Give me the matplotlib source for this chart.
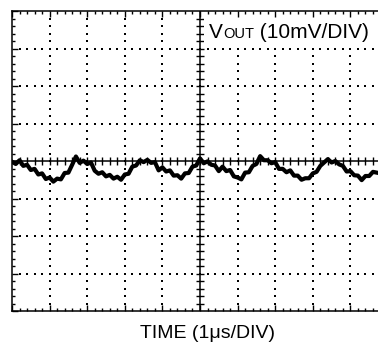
import matplotlib
matplotlib.use("Agg")
import matplotlib.pyplot as plt
from matplotlib.ticker import MultipleLocator
from matplotlib.patches import Rectangle
import numpy as np

plt.rcParams['font.family'] = ['Liberation Sans', 'DejaVu Sans']

# ---- data (time in us, VOUT ripple in mV) ----
time_us = [0.0, 0.1, 0.2, 0.3, 0.4, 0.5, 0.6, 0.7, 0.8, 0.9,
           1.0, 1.1, 1.2, 1.3, 1.4, 1.5, 1.6, 1.7, 1.8, 1.9,
           2.0, 2.1, 2.2, 2.3, 2.4, 2.5, 2.6, 2.7, 2.8, 2.9,
           3.0, 3.1, 3.2, 3.3, 3.4, 3.5, 3.6, 3.7, 3.8, 3.9,
           4.0, 4.1, 4.2, 4.3, 4.4, 4.5, 4.6, 4.7, 4.8, 4.9,
           5.0, 5.1, 5.2, 5.3, 5.4, 5.5, 5.6, 5.7, 5.8, 5.9,
           6.0, 6.1, 6.2, 6.3, 6.4, 6.5, 6.6, 6.7, 6.8, 6.9,
           7.0, 7.1, 7.2, 7.3, 7.4, 7.5, 7.6, 7.7, 7.8, 7.9,
           8.0, 8.1, 8.2, 8.3, 8.4, 8.5, 8.6, 8.7, 8.8, 8.9,
           9.0, 9.1, 9.2, 9.3, 9.4, 9.5, 9.6, 9.7]
vout_mv = [-0.2, -0.8, 0.2, -1.3, -1.0, -2.4, -2.1, -3.6, -3.3, -4.8,
           -4.4, -5.5, -4.7, -4.9, -3.2, -3.1, -1.0, 1.2, -0.5, 0.1,
           -0.8, -0.4, -2.6, -3.4, -3.0, -4.1, -3.7, -4.7, -4.2, -5.0,
           -3.6, -3.4, -1.5, -1.2, 0.2, -0.3, 0.3, -0.5, -0.3, -2.5,
           -1.7, -2.8, -2.5, -3.9, -3.8, -4.7, -3.3, -3.2, -1.5, -1.2,
           0.7, -0.6, -0.1, -1.0, -1.2, -2.7, -1.5, -2.7, -2.4, -4.1,
           -4.4, -4.9, -3.1, -3.0, -1.3, -0.8, 1.3, 0.2, 0.2, -0.6,
           -0.3, -2.1, -2.1, -3.0, -2.5, -3.9, -3.9, -5.0, -4.6, -4.6,
           -3.3, -2.9, -1.3, -0.4, 0.5, -0.4, 0.0, -0.9, -1.3, -2.8,
           -2.7, -3.8, -3.9, -5.1, -4.0, -4.0, -2.9, -3.1]

x_divs = 10      # 1 us/DIV
y_divs = 8       # 10 mV/DIV
volts_per_div = 10
y_label_top = "(10mV/DIV)"
x_label = "TIME (1\u03bcs/DIV)"

fig = plt.figure(figsize=(3.78, 3.48), dpi=100)
W, H = 378, 348
left_px, right_px, top_px, bot_px = 12, 388, 11, 311
ax = fig.add_axes([left_px / W, (H - bot_px) / H,
                   (right_px - left_px) / W, (bot_px - top_px) / H])
ymax = y_divs / 2 * volts_per_div
ax.set_xlim(0, x_divs)
ax.set_ylim(-ymax, ymax)

for s in ax.spines.values():
    s.set_linewidth(1.1)
ax.xaxis.set_major_locator(MultipleLocator(1))
ax.xaxis.set_minor_locator(MultipleLocator(0.2))
ax.yaxis.set_major_locator(MultipleLocator(volts_per_div))
ax.yaxis.set_minor_locator(MultipleLocator(volts_per_div / 5))
ax.tick_params(which='both', direction='in', top=True, right=True,
               labelbottom=False, labelleft=False, width=1.0, color='k')
ax.tick_params(which='major', length=4.3)
ax.tick_params(which='minor', length=2.3)

# dotted graticule
dot_kw = dict(linestyle='none', marker='s', ms=1.5, mew=0, color='k', zorder=1)
fine_x = np.arange(1, x_divs * 5) * 0.2
fine_y = np.arange(-y_divs / 2 * 5 + 1, y_divs / 2 * 5) * (volts_per_div / 5)
for gx in range(1, x_divs):
    if gx == x_divs // 2:
        continue
    ax.plot(np.full(len(fine_y), gx), fine_y, **dot_kw)
for gy in np.arange(-ymax + volts_per_div, ymax, volts_per_div):
    if gy == 0:
        continue
    ax.plot(fine_x, np.full(len(fine_x), gy), **dot_kw)

# white patch behind the channel label (hides graticule dots)
fig.add_artist(Rectangle((204 / W, (H - 45) / H), (W - 204) / W, 27 / H,
                         transform=fig.transFigure, facecolor='white',
                         edgecolor='none', zorder=1.5))

# center cross with tick marks
ax.axhline(0, color='k', lw=1.1, zorder=2)
ax.axvline(x_divs / 2, color='k', lw=1.1, zorder=2)
ax.plot(fine_x, np.zeros(len(fine_x)), linestyle='none', marker='|',
        ms=5.5, mew=1.0, color='k', zorder=2)
ax.plot(np.full(len(fine_y), x_divs / 2), fine_y, linestyle='none', marker='_',
        ms=5.5, mew=1.0, color='k', zorder=2)

# trace
ax.plot(time_us, vout_mv, color='k', lw=3.0, solid_joinstyle='round', zorder=3)

# labels
fs = 15
base_y = (H - 38.5) / H
tV = fig.text(209 / W, base_y, "V", fontsize=fs, ha='left', va='baseline', zorder=3)
fig.canvas.draw()
r = fig.canvas.get_renderer()
bb = tV.get_window_extent(r)
tO = fig.text(bb.x1 / W, base_y, "OUT", fontsize=fs * 0.7,
              ha='left', va='baseline', zorder=3)
bb2 = tO.get_window_extent(r)
fig.text(bb2.x1 / W, base_y, " " + y_label_top, fontsize=fs,
         ha='left', va='baseline', zorder=3)

fig.text(207 / W, (H - 338) / H, x_label, fontsize=14, ha='center', va='baseline')

fig.savefig("out.png", dpi=100)
